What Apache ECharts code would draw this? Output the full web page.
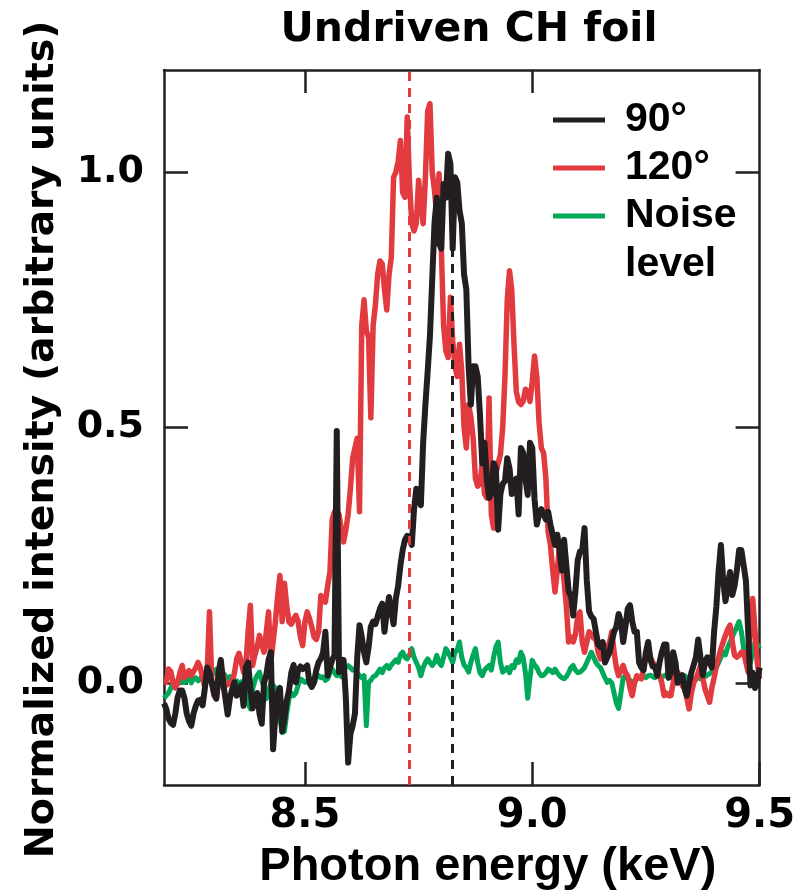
<!DOCTYPE html>
<html><head><meta charset="utf-8">
<script src="https://cdn.jsdelivr.net/npm/echarts@6/dist/echarts.min.js"></script>
<style>html,body{margin:0;padding:0;background:#fff}#chart{width:798px;height:896px}</style>
</head><body><div id="chart"></div>
<script>
// Photon energy grid (keV)
const energy = [
8.19,8.195,8.2,8.205,8.21,8.215,8.22,8.225,8.23,8.235,
8.24,8.245,8.25,8.255,8.26,8.265,8.27,8.275,8.28,8.285,
8.29,8.295,8.3,8.305,8.31,8.315,8.32,8.325,8.33,8.335,
8.34,8.345,8.35,8.355,8.36,8.365,8.37,8.375,8.38,8.385,
8.39,8.395,8.4,8.405,8.41,8.415,8.42,8.425,8.43,8.435,
8.44,8.445,8.45,8.455,8.46,8.465,8.47,8.475,8.48,8.485,
8.49,8.495,8.5,8.505,8.51,8.515,8.52,8.525,8.53,8.535,
8.54,8.545,8.55,8.555,8.56,8.565,8.57,8.575,8.58,8.585,
8.59,8.595,8.6,8.605,8.61,8.615,8.62,8.625,8.63,8.635,
8.64,8.645,8.65,8.655,8.66,8.665,8.67,8.675,8.68,8.685,
8.69,8.695,8.7,8.705,8.71,8.715,8.72,8.725,8.73,8.735,
8.74,8.745,8.75,8.755,8.76,8.765,8.77,8.775,8.78,8.785,
8.79,8.795,8.8,8.805,8.81,8.815,8.82,8.825,8.83,8.835,
8.84,8.845,8.85,8.855,8.86,8.865,8.87,8.875,8.88,8.885,
8.89,8.895,8.9,8.905,8.91,8.915,8.92,8.925,8.93,8.935,
8.94,8.945,8.95,8.955,8.96,8.965,8.97,8.975,8.98,8.985,
8.99,8.995,9.0,9.005,9.01,9.015,9.02,9.025,9.03,9.035,
9.04,9.045,9.05,9.055,9.06,9.065,9.07,9.075,9.08,9.085,
9.09,9.095,9.1,9.105,9.11,9.115,9.12,9.125,9.13,9.135,
9.14,9.145,9.15,9.155,9.16,9.165,9.17,9.175,9.18,9.185,
9.19,9.195,9.2,9.205,9.21,9.215,9.22,9.225,9.23,9.235,
9.24,9.245,9.25,9.255,9.26,9.265,9.27,9.275,9.28,9.285,
9.29,9.295,9.3,9.305,9.31,9.315,9.32,9.325,9.33,9.335,
9.34,9.345,9.35,9.355,9.36,9.365,9.37,9.375,9.38,9.385,
9.39,9.395,9.4,9.405,9.41,9.415,9.42,9.425,9.43,9.435,
9.44,9.445,9.45,9.455,9.46,9.465,9.47,9.475,9.48,9.485,
9.49,9.495,9.5
];
// 90 degree spectrum
const intensity90 = [
-0.04,-0.051,-0.07,-0.078,-0.082,-0.06,-0.028,-0.015,-0.015,-0.03,
-0.06,-0.075,-0.084,-0.06,-0.045,-0.035,-0.033,-0.044,-0.01,0.03,
0.02,0.0,-0.02,-0.031,0.02,0.045,0.0,-0.03,-0.062,-0.03,
-0.012,0.001,-0.025,-0.02,-0.005,-0.045,0.03,0.04,-0.01,-0.05,
-0.03,-0.02,-0.06,-0.08,0.0,0.015,0.045,0.06,-0.13,-0.064,
-0.02,-0.01,-0.095,-0.07,-0.035,-0.015,0.02,0.035,0.001,0.025,
0.032,0.027,0.03,0.034,0.0,-0.008,0.001,0.025,0.04,0.047,
0.06,0.1,0.014,0.03,0.045,0.054,0.493,0.021,0.035,0.045,
-0.03,-0.156,-0.1,-0.084,-0.06,0.05,0.113,0.09,0.06,0.04,
0.07,0.11,0.12,0.115,0.13,0.145,0.155,0.1,0.14,0.168,
0.14,0.115,0.165,0.19,0.23,0.26,0.28,0.288,0.285,0.27,
0.34,0.38,0.36,0.348,0.47,0.545,0.61,0.68,0.79,0.9,
0.95,0.86,0.85,0.977,0.95,1.036,1.016,0.85,0.99,0.98,
0.925,0.9,0.8,0.77,0.62,0.545,0.62,0.62,0.6,0.525,
0.43,0.47,0.4,0.362,0.37,0.43,0.42,0.3,0.37,0.39,
0.395,0.44,0.42,0.37,0.39,0.4,0.33,0.46,0.45,0.4,
0.368,0.47,0.46,0.36,0.31,0.33,0.34,0.33,0.32,0.335,
0.31,0.29,0.27,0.29,0.26,0.22,0.28,0.23,0.18,0.17,
0.132,0.18,0.24,0.257,0.26,0.303,0.2,0.14,0.13,0.125,
0.1,0.075,0.07,0.08,0.04,0.05,0.06,0.082,0.1,0.11,
0.135,0.12,0.08,0.11,0.145,0.152,0.12,0.1,0.1,0.04,
0.03,0.025,0.06,0.08,0.045,0.032,0.032,0.014,0.04,0.06,
0.075,0.075,0.01,0.02,0.06,0.04,0.0,0.01,0.015,-0.01,
-0.025,0.0,0.02,0.035,0.05,0.085,0.05,0.015,0.04,0.05,
0.04,0.03,0.1,0.15,0.22,0.27,0.2,0.16,0.19,0.217,
0.172,0.19,0.22,0.26,0.26,0.23,0.2,0.1,-0.005,0.02,
-0.01,0.0,0.03
];
// 120 degree spectrum
const intensity120 = [
0.0,0.001,0.027,0.022,0.0,-0.01,0.0,0.02,0.034,0.01,
0.018,0.024,0.014,0.022,0.03,0.04,0.03,0.01,-0.01,0.02,
0.139,0.005,-0.025,-0.031,0.0,0.034,0.015,-0.005,-0.003,0.0,
0.001,0.02,0.047,0.058,0.04,0.021,0.034,0.1,0.152,0.034,
0.055,0.07,0.093,0.075,0.06,0.1,0.139,0.04,0.08,0.12,
0.17,0.21,0.12,0.195,0.15,0.119,0.115,0.125,0.132,0.12,
0.09,0.073,0.12,0.139,0.126,0.11,0.09,0.085,0.1,0.171,
0.165,0.158,0.19,0.217,0.32,0.335,0.335,0.33,0.3,0.276,
0.3,0.33,0.38,0.44,0.46,0.479,0.335,0.7,0.75,0.69,
0.676,0.519,0.7,0.74,0.8,0.826,0.82,0.77,0.73,0.8,
0.833,0.99,1.0,1.02,1.062,0.96,0.951,1.108,0.98,0.9,
0.885,0.9,0.984,0.94,0.899,0.99,1.12,1.134,1.0,0.964,
0.912,0.997,0.85,0.7,0.65,0.637,0.755,0.67,0.62,0.6,
0.663,0.61,0.5,0.46,0.545,0.52,0.48,0.4,0.385,0.39,
0.43,0.37,0.362,0.558,0.33,0.303,0.41,0.43,0.447,0.5,
0.6,0.75,0.807,0.768,0.66,0.57,0.55,0.545,0.551,0.575,
0.57,0.551,0.59,0.64,0.6,0.51,0.46,0.45,0.4,0.296,
0.27,0.22,0.178,0.22,0.27,0.24,0.2,0.15,0.08,0.09,
0.08,0.095,0.13,0.139,0.08,0.06,0.08,0.1,0.095,0.088,
0.085,0.06,0.047,0.055,0.065,0.067,0.08,0.1,0.06,0.03,
0.014,0.025,0.034,0.02,0.014,-0.01,-0.025,0.0,0.014,0.01,
0.008,0.03,0.055,0.067,0.05,0.04,0.034,0.025,0.014,0.0,
-0.025,-0.02,-0.025,-0.025,0.0,0.015,0.021,0.01,-0.005,-0.012,
-0.03,-0.051,-0.02,0.0,0.008,0.02,0.034,0.01,-0.012,-0.025,
-0.038,-0.01,0.01,0.034,0.05,0.067,0.08,0.093,0.105,0.113,
0.08,0.054,0.05,0.054,0.06,0.06,0.04,0.021,0.12,0.165,
0.1,0.04,0.008
];
// Noise level
const noiseLevel = [
-0.03,-0.025,-0.02,-0.01,0.0,-0.005,0.005,0.0,0.01,0.001,
0.005,0.012,0.0,0.008,0.01,0.004,0.008,0.015,0.01,0.02,
0.012,0.025,0.018,0.027,0.02,0.01,0.02,0.014,0.005,0.012,
0.008,0.0,0.004,-0.005,0.002,-0.01,-0.02,-0.04,-0.051,-0.012,
0.005,0.015,0.021,0.005,-0.01,-0.031,-0.015,0.0,-0.005,-0.01,
-0.03,-0.07,-0.097,-0.095,-0.06,-0.031,-0.02,-0.025,-0.02,-0.005,
0.008,0.005,0.001,0.004,0.0,0.006,0.001,0.01,0.014,0.01,
0.012,0.005,0.008,0.02,0.027,0.02,0.014,0.02,0.012,0.025,
0.03,0.034,0.03,0.025,0.027,0.02,0.014,0.01,0.014,-0.084,
0.001,0.005,0.012,0.014,0.02,0.027,0.02,0.03,0.034,0.028,
0.035,0.04,0.045,0.04,0.055,0.06,0.05,0.047,0.055,0.067,
0.05,0.04,0.03,0.014,0.03,0.04,0.047,0.04,0.034,0.04,
0.054,0.04,0.034,0.05,0.067,0.06,0.05,0.04,0.06,0.065,
0.08,0.05,0.035,0.03,0.021,0.04,0.055,0.067,0.04,0.02,
0.014,0.025,0.03,0.034,0.025,0.05,0.07,0.08,0.04,0.021,
0.025,0.03,0.02,0.034,0.03,0.045,0.04,0.06,0.05,0.02,
-0.03,0.01,0.044,0.035,0.03,0.02,0.014,0.015,0.02,0.027,
0.024,0.02,0.027,0.02,0.014,0.01,0.008,0.012,0.02,0.03,
0.034,0.025,0.02,0.021,0.025,0.03,0.04,0.05,0.06,0.05,
0.04,0.034,0.03,0.02,0.01,0.001,0.005,0.0,-0.02,-0.04,
-0.05,-0.02,0.01,0.014,0.008,0.005,0.002,0.001,0.008,0.01,
0.012,0.014,0.01,0.014,0.015,0.012,0.01,0.014,0.012,0.01,
0.014,0.016,0.012,0.01,0.014,0.012,0.014,0.01,0.012,0.014,
0.01,0.008,0.01,0.005,0.008,0.01,0.008,0.01,0.012,0.015,
0.018,0.021,0.021,0.03,0.04,0.05,0.06,0.055,0.07,0.08,
0.09,0.1,0.11,0.12,0.1,0.067,0.05,0.034,0.04,0.06,
0.08,0.075,0.067
];
const seriesNames = ['90°', '120°', 'Noise'];
const xTicks = [8.5, 9.0, 9.5];
const xTopTicks = [8.5, 9.0];
const yTicks = [0, 0.5, 1.0];
const markerRed = 8.73;
const markerBlack = 8.823;
const markerBlackTop = 0.97;

const C_BLACK = '#231f20', C_RED = '#e13a3f', C_GREEN = '#00a859';
const AX = '#231f20';
const pair = arr => energy.map((e, i) => [e, arr[i]]);

const chart = echarts.init(document.getElementById('chart'), null, {renderer: 'canvas'});
const axisLine = {show: true, onZero: false, lineStyle: {color: AX, width: 2.5}};
const option = {
  animation: false,
  backgroundColor: '#ffffff',
  title: {
    text: 'Undriven CH foil', left: 464, top: 5, textAlign: 'center',
    textStyle: {fontFamily: 'DejaVu Sans', fontWeight: 'bold', fontSize: 41, color: '#000'}
  },
  legend: {
    data: seriesNames, orient: 'vertical', left: 553, top: 96, padding: 0, itemGap: 0,
    itemWidth: 52, itemHeight: 5, icon: 'rect', selectedMode: false,
    textStyle: {fontFamily: 'Liberation Sans', fontWeight: 'bold', fontSize: 41, lineHeight: 48, color: '#000', padding: [0, 0, 0, 15]}
  },
  graphic: [{
    type: 'text', left: 625, top: 244,
    style: {text: 'level', font: 'bold 41px "Liberation Sans"', fill: '#000'}
  }],
  grid: {left: 164, right: 36, top: 70, bottom: 111},
  xAxis: [{
    type: 'value', min: 8.19, max: 9.5, position: 'bottom',
    axisLine: axisLine,
    axisTick: {inside: true, length: 23, customValues: xTicks, lineStyle: {color: AX, width: 2.5}},
    axisLabel: {customValues: xTicks, formatter: v => v.toFixed(1), margin: 12,
      fontFamily: 'DejaVu Sans', fontWeight: 'bold', fontSize: 40, color: '#000'},
    splitLine: {show: false},
    name: 'Photon energy (keV)', nameLocation: 'middle', nameGap: 59,
    nameTextStyle: {fontFamily: 'Liberation Sans', fontWeight: 'bold', fontSize: 47, color: '#000', padding: [0, 0, 0, 52]}
  }, {
    type: 'value', min: 8.19, max: 9.5, position: 'top',
    axisLine: axisLine,
    axisTick: {inside: true, length: 23, customValues: xTopTicks, lineStyle: {color: AX, width: 2.5}},
    axisLabel: {show: false}, splitLine: {show: false}
  }],
  yAxis: [{
    type: 'value', min: -0.2, max: 1.2, position: 'left',
    axisLine: axisLine,
    axisTick: {inside: true, length: 24, customValues: yTicks, lineStyle: {color: AX, width: 2.5}},
    axisLabel: {customValues: yTicks, formatter: v => v.toFixed(1), margin: 20,
      fontFamily: 'DejaVu Sans', fontWeight: 'bold', fontSize: 38, color: '#000'},
    splitLine: {show: false},
    name: 'Normalized intensity (arbitrary units)', nameLocation: 'middle', nameGap: 101, nameRotate: 90,
    nameTextStyle: {fontFamily: 'DejaVu Sans', fontWeight: 'bold', fontSize: 39.5, color: '#000', padding: [0, 24, 0, 0]}
  }, {
    type: 'value', min: -0.2, max: 1.2, position: 'right',
    axisLine: axisLine,
    axisTick: {inside: true, length: 24, customValues: yTicks, lineStyle: {color: AX, width: 2.5}},
    axisLabel: {show: false}, splitLine: {show: false}
  }],
  series: [{
    name: seriesNames[2], type: 'line', data: pair(noiseLevel), showSymbol: false, z: 2,
    lineStyle: {color: C_GREEN, width: 5, join: 'round'}, itemStyle: {color: C_GREEN},
    markLine: {
      silent: true, symbol: ['none', 'none'], label: {show: false},
      data: [
        {xAxis: markerRed, lineStyle: {color: C_RED, width: 3, type: [9, 7]}},
        [{coord: [markerBlack, -0.2], lineStyle: {color: C_BLACK, width: 3, type: [9, 7]}}, {coord: [markerBlack, markerBlackTop]}]
      ]
    }
  }, {
    name: seriesNames[1], type: 'line', data: pair(intensity120), showSymbol: false, z: 3,
    lineStyle: {color: C_RED, width: 5.5, join: 'round'}, itemStyle: {color: C_RED}
  }, {
    name: seriesNames[0], type: 'line', data: pair(intensity90), showSymbol: false, z: 4,
    lineStyle: {color: C_BLACK, width: 6, join: 'round'}, itemStyle: {color: C_BLACK}
  }]
};
chart.setOption(option);
</script></body></html>
